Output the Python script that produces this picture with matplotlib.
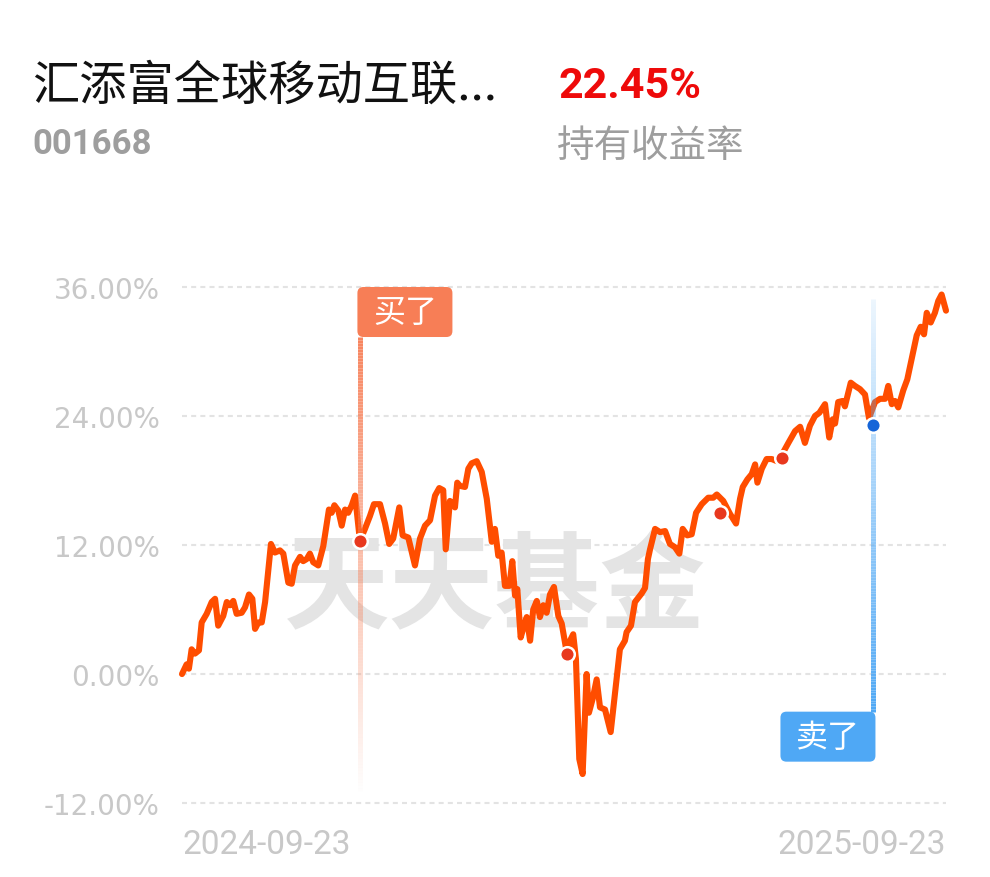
import numpy as np
import matplotlib
matplotlib.use('Agg')
import matplotlib.pyplot as plt
from matplotlib import colors as mcolors
from matplotlib import font_manager
from matplotlib.collections import LineCollection
from matplotlib.patches import FancyBboxPatch
from matplotlib.transforms import IdentityTransform


# Holding return curve: days since 2024-09-23, return in %
days = [0, 2.2, 3.3, 4.6, 6.2, 8.1, 9.4, 11.8, 14.2, 15.8, 17.3, 19.7, 21.4, 23.0,
        24.5, 26.1, 28.5, 30.1, 32.0, 33.6, 34.9, 36.5, 38.1, 39.7, 42.5, 44.4,
        46.8, 48.4, 50.8, 52.4, 54.0, 56.4, 57.9, 59.6, 61.1, 62.7, 65.1, 67.5,
        70.2, 71.5, 72.8, 74.7, 76.3, 77.9, 79.4, 81.1, 82.7, 85.0, 87.4, 89.8,
        91.7, 94.6, 97.0, 99.0, 100.9, 103.8, 105.4, 108.1, 111.3, 113.7, 116.1,
        118.5, 120.9, 122.9, 124.8, 126.0, 128.0, 130.4, 131.5, 132.8, 135.2,
        136.8, 138.4, 140.8, 143.2, 145.6, 148.0, 149.5, 151.1, 152.7, 154.3,
        156.4, 157.8, 159.1, 160.2, 161.8, 163.4, 164.7, 166.3, 167.8, 169.5,
        171.0, 172.6, 174.2, 175.8, 177.7, 179.8, 181.4, 183.9, 185.4, 186.9,
        188.2, 189.8, 191.4, 193.3, 194.4, 196.2, 198.1, 199.7, 202.1, 204.8,
        206.9, 209.2, 211.6, 212.4, 214.5, 216.4, 219.6, 221.2, 222.6, 223.6,
        226.0, 228.4, 230.8, 233.1, 235.5, 237.6, 239.2, 241.4, 243.5, 245.6,
        248.3, 251.4, 253.8, 255.5, 258.6, 261.8, 264.7, 266.6, 267.9, 270.1,
        272.2, 273.8, 274.9, 277.0, 279.3, 281.7, 284.2, 286.6, 289.7, 292.9,
        295.3, 297.6, 300.0, 302.4, 304.5, 307.2, 309.2, 310.9, 312.0, 313.5,
        315.6, 316.7, 319.5, 321.5, 323.9, 326.3, 328.2, 331.1, 333.5, 335.9,
        337.4, 339.1, 340.6, 342.2, 344.6, 346.5, 348.6, 351.0, 352.9, 354.5,
        355.8, 357.7, 359.7, 361.3, 362.9, 365]
returns = [0.0, 0.9, 0.5, 2.3, 1.9, 2.2, 4.8, 5.6, 6.7, 7.0, 4.5, 5.4, 6.7, 6.4,
           6.8, 5.6, 5.7, 6.2, 7.4, 7.0, 4.2, 4.8, 4.8, 6.7, 12.1, 11.3,
           11.5, 11.2, 8.5, 8.4, 10.1, 10.9, 10.5, 10.7, 11.2, 10.4, 10.1, 11.9,
           15.3, 15.0, 15.7, 15.2, 13.8, 15.3, 15.0, 15.7, 16.6, 12.4, 13.5, 14.7,
           15.8, 15.8, 14.0, 12.1, 12.6, 15.5, 12.9, 12.7, 10.1, 12.6, 13.8,
           14.3, 16.6, 17.3, 17.1, 11.6, 16.1, 15.5, 17.8, 17.5, 17.4,
           19.1, 19.6, 19.8, 18.8, 16.3, 12.3, 13.5, 11.0, 11.3, 8.2,
           8.2, 10.5, 7.3, 7.9, 3.4, 4.5, 5.3, 3.1, 6.0, 6.8,
           5.3, 6.4, 5.7, 7.4, 8.1, 5.4, 4.7, 1.9, 3.1, 3.7,
           1.4, -7.9, -9.3, 0.0, -3.6, -2.3, -0.5, -3.1, -3.3, -5.4,
           -1.7, 2.3, 3.1, 3.9, 4.5, 6.7, 7.5, 8.0, 10.7, 11.6,
           13.5, 13.2, 13.3, 12.1, 11.8, 11.2, 13.5, 12.9, 13.0, 15.0,
           15.8, 16.4, 16.4, 16.7, 16.1, 14.9, 14.0, 16.3, 17.4, 18.1,
           18.6, 19.5, 17.8, 19.1, 20.0, 20.0, 19.8, 20.4, 21.5, 22.6,
           23.0, 21.5, 23.1, 24.0, 24.3, 25.1, 22.0, 23.7, 23.3, 25.3,
           25.4, 24.9, 27.1, 26.8, 26.5, 26.0, 23.8, 25.3, 25.6, 25.6,
           26.8, 25.1, 25.4, 24.8, 26.4, 27.4, 29.3, 31.5, 32.3, 31.6,
           33.6, 32.7, 33.6, 34.7, 35.3, 33.8]

# Trade markers
buy_days = [85.0, 183.9, 257.0, 286.6]
buy_returns = [12.4, 1.9, 15.0, 20.1]
sell_days = [330.1]
sell_returns = [23.2]

y_ticks = [-12, 0, 12, 24, 36]
y_tick_labels = ['-12.00%', '0.00%', '12.00%', '24.00%', '36.00%']
x_ticks = [0, 365]
x_tick_labels = ['2024-09-23', '2025-09-23']

fund_name = '汇添富全球移动互联...'
fund_code = '001668'
holding_return = '22.45%'
holding_label = '持有收益率'

# Colours
LINE_COLOR = '#FF4D00'
BUY_COLOR = '#F77E56'
SELL_COLOR = '#4FA8F5'
BUY_DOT = '#E8381E'
SELL_DOT = '#1565D8'
GRID_COLOR = '#E3E3E3'
TICK_COLOR = '#C8C8C8'

plt.rcParams['font.family'] = ['Noto Sans CJK SC', 'DejaVu Sans']
installed = {f.name for f in font_manager.fontManager.ttflist}
NARROW = 'Liberation Sans Narrow' if 'Liberation Sans Narrow' in installed else 'Roboto'


def gradient_vline(ax, x, y0, y1, color, a0, a1, lw, n=150):
    ys = np.linspace(y0, y1, n + 1)
    segs = [[(x, ys[i]), (x, ys[i + 1])] for i in range(n)]
    rgba = np.tile(mcolors.to_rgba(color), (n, 1))
    rgba[:, 3] = np.linspace(a0, a1, n)
    lc = LineCollection(segs, colors=rgba, linewidths=lw, capstyle='butt', zorder=3)
    ax.add_collection(lc)


def label_box(fig, ax, x, y, text, color, anchor):
    # box of 95x50 px anchored at a data point (top-left or top-right)
    px, py = ax.transData.transform((x, y))
    w, h = 95, 50
    left = px - 2.5 if anchor == 'left' else px + 2.5 - w
    box = FancyBboxPatch((left, py - h), w, h,
                         boxstyle='round,pad=0,rounding_size=6',
                         fc=color, ec='none', transform=IdentityTransform(), zorder=5)
    fig.add_artist(box)
    fig.text(left + w / 2, py - h / 2, text, transform=IdentityTransform(),
             ha='center', va='center', color='white', fontsize=23, zorder=6)


fig = plt.figure(figsize=(9.9, 8.78), dpi=100)
ax = fig.add_axes([182 / 990, 0.0781, 764 / 990, 0.6000])
ax.set_xlim(0, 365)
ax.set_ylim(-12.5, 36.5)
ax.patch.set_alpha(0)
for s in ax.spines.values():
    s.set_visible(False)

# Grid
for yv in y_ticks:
    ax.axhline(yv, color=GRID_COLOR, lw=1.5, ls=(0, (2.4, 2.0)), zorder=0)

# Watermark
ax.text(0.41, 0.416, '天天基金', transform=ax.transAxes, ha='center', va='center',
        fontsize=76, fontweight='bold', color='#E4E4E4', zorder=1)

# Main curve
ax.plot(days, returns, color=LINE_COLOR, lw=4.4, solid_joinstyle='round',
        solid_capstyle='round', zorder=2, clip_on=False)

# Buy / sell guide lines
buy_box_bottom = 36 - 50 / 10.75
gradient_vline(ax, buy_days[0], buy_box_bottom, -11.2, BUY_COLOR, 0.95, 0.0, 3.6)
gradient_vline(ax, sell_days[0], 34.9, -3.5, SELL_COLOR, 0.1, 1.0, 3.6)

ax.plot(buy_days, buy_returns, 'o', ms=10.5, mfc=BUY_DOT, mec='white', mew=1.8, zorder=4)
ax.plot(sell_days, sell_returns, 'o', ms=10.5, mfc=SELL_DOT, mec='white', mew=1.8, zorder=4)

# Ticks
ax.set_yticks(y_ticks, y_tick_labels)
ax.set_xticks(x_ticks, x_tick_labels)
ax.tick_params(axis='y', length=0, pad=16, labelcolor=TICK_COLOR, labelsize=20)
ax.tick_params(axis='x', length=0, pad=14, labelcolor=TICK_COLOR, labelsize=24)
for lbl in ax.get_yticklabels():
    lbl.set_family(['DejaVu Sans'])
for lbl, ha in zip(ax.get_xticklabels(), ['left', 'right']):
    lbl.set_family(['Roboto'])
    lbl.set_ha(ha)

label_box(fig, ax, buy_days[0], 36, '买了', BUY_COLOR, 'left')
label_box(fig, ax, sell_days[0], -3.5, '卖了', SELL_COLOR, 'right')

# Header texts
fig.text(32 / 990, 1 - 86 / 878, fund_name, ha='left', va='center',
         fontsize=34, color='#111111')
fig.text(558 / 990, 1 - 86 / 878, holding_return, ha='left', va='center',
         fontsize=31, fontweight='bold', color='#EE0A0A', family=[NARROW])
fig.text(32 / 990, 1 - 144 / 878, fund_code, ha='left', va='center',
         fontsize=25, fontweight='bold', color='#9E9E9E', family=[NARROW])
fig.text(557 / 990, 1 - 147 / 878, holding_label, ha='left', va='center',
         fontsize=27, color='#9E9E9E')

fig.savefig('out.png', dpi=100, facecolor='white')
